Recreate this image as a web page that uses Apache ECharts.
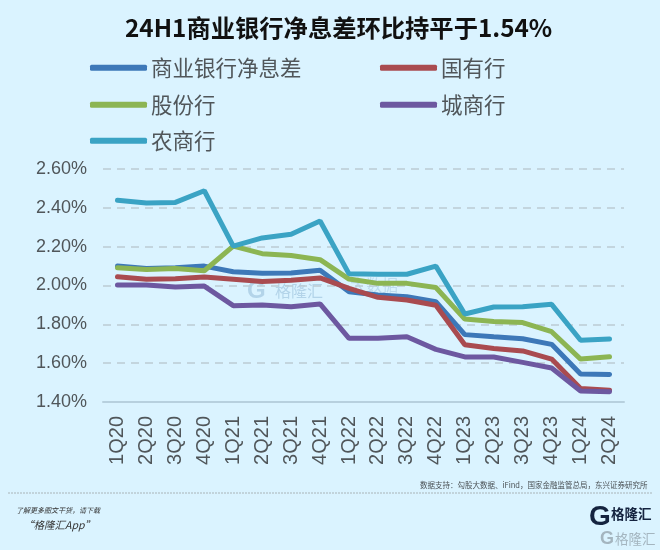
<!DOCTYPE html>
<html lang="zh">
<head>
<meta charset="utf-8">
<script src="https://cdn.jsdelivr.net/npm/echarts@6/dist/echarts.min.js"></script>
<style>
html, body { margin: 0; padding: 0; background: #daf3ff; }
#chart { width: 660px; height: 550px; }
</style>
</head>
<body>
<div id="chart"></div>
<script>
var quarters = ['1Q20','2Q20','3Q20','4Q20','1Q21','2Q21','3Q21','4Q21','1Q22','2Q22','3Q22','4Q22','1Q23','2Q23','3Q23','4Q23','1Q24','2Q24'];
var banks = [2.10,2.088,2.092,2.10,2.071,2.063,2.064,2.078,1.968,1.951,1.942,1.917,1.747,1.736,1.726,1.697,1.544,1.542];
var stateOwned = [2.045,2.032,2.035,2.044,2.032,2.02,2.027,2.039,1.985,1.939,1.925,1.898,1.695,1.676,1.663,1.621,1.47,1.46];
var joint = [2.092,2.083,2.088,2.076,2.203,2.164,2.154,2.133,2.033,2.011,2.011,1.99,1.827,1.814,1.809,1.762,1.621,1.633];
var city = [2.003,2.003,1.992,1.997,1.896,1.90,1.891,1.905,1.728,1.728,1.736,1.671,1.632,1.632,1.604,1.575,1.457,1.453];
var rural = [2.439,2.425,2.428,2.488,2.203,2.245,2.264,2.332,2.06,2.058,2.058,2.10,1.853,1.889,1.891,1.903,1.718,1.725];

var cjk = '"Noto Sans CJK SC"';
var chart = echarts.init(document.getElementById('chart'));

function line(name, data, color) {
    return {
        name: name, type: 'line', data: data, symbol: 'none',
        lineStyle: { color: color, width: 5, cap: 'round' },
        itemStyle: { color: color }
    };
}

function legend(name, left, top) {
    return {
        data: [name], left: left, top: top, icon: 'roundRect',
        itemWidth: 57, itemHeight: 6, itemGap: 4, padding: 0,
        textStyle: { fontFamily: cjk, fontSize: 21.5, color: '#50565a', padding: [0, 0, 0, -1] }
    };
}

function label(text, x, y, size, color, extra) {
    return {
        type: 'text', x: x, y: y, silent: true,
        style: Object.assign({ text: text, fontFamily: cjk, fontSize: size, fill: color, textVerticalAlign: 'middle' }, extra || {})
    };
}

chart.setOption({
    backgroundColor: '#daf3ff',
    animation: false,
    title: {
        text: '24H1商业银行净息差环比持平于1.54%', left: 125, top: 16, padding: 0,
        textStyle: { fontFamily: cjk, fontSize: 24.3, fontWeight: 'bold', color: '#111' }
    },
    legend: [
        legend('商业银行净息差', 90, 57),
        legend('国有行', 380, 57),
        legend('股份行', 90, 94),
        legend('城商行', 380, 94),
        legend('农商行', 90, 130)
    ],
    grid: { left: 103, right: 36, top: 169, bottom: 148 },
    xAxis: {
        type: 'category', data: quarters,
        axisLine: { lineStyle: { color: '#b7d0de', width: 2 } },
        axisTick: { show: false },
        axisLabel: { rotate: 90, margin: 14, interval: 0, fontFamily: 'Liberation Sans', fontSize: 20, color: '#50565a' }
    },
    yAxis: {
        type: 'value', min: 1.4, max: 2.6, interval: 0.2,
        axisLine: { show: false },
        axisTick: { show: false },
        axisLabel: {
            margin: 16, fontFamily: 'Liberation Sans', fontSize: 18, color: '#50565a',
            formatter: function (v) { return v.toFixed(2) + '%'; }
        },
        splitLine: { lineStyle: { color: '#bccbd3', width: 1.5, type: [8, 6] } }
    },
    series: [
        line('商业银行净息差', banks, '#3d78b8'),
        line('国有行', stateOwned, '#a94b50'),
        line('股份行', joint, '#8cb553'),
        line('城商行', city, '#6d58a0'),
        line('农商行', rural, '#3aa3c4')
    ],
    graphic: [
        label('格隆汇', 275, 291, 16, 'rgba(120,165,200,0.4)'),
        label('G', 247, 291, 24, 'rgba(120,165,200,0.4)', { fontWeight: 'bold', fontFamily: 'Liberation Sans' }),
        label('大数据', 350, 285, 16, 'rgba(120,165,200,0.3)'),
        label('数据支持：勾股大数据、iFind，国家金融监管总局，东兴证券研究所', 420, 485, 7.5, '#4a5054'),
        { type: 'line', silent: true, shape: { x1: 8, y1: 493, x2: 652, y2: 493 }, style: { stroke: '#a9b4b8', lineWidth: 1, lineDash: [2, 1] } },
        label('了解更多图文干货，请下载', 16, 510, 7, '#333', { fontStyle: 'italic' }),
        label('“格隆汇App”', 23, 525, 10.5, '#333', { fontStyle: 'italic' }),
        label('G', 589, 517, 28, '#14233f', { fontWeight: 'bold', fontFamily: 'Liberation Sans' }),
        label('格隆汇', 611, 514, 13.5, '#14233f', { fontWeight: 'bold' }),
        label('G', 600, 539, 18, 'rgba(150,165,175,0.8)', { fontWeight: 'bold', fontFamily: 'Liberation Sans' }),
        label('格隆汇', 615, 539, 13.5, 'rgba(150,165,175,0.8)')
    ]
});
</script>
</body>
</html>
